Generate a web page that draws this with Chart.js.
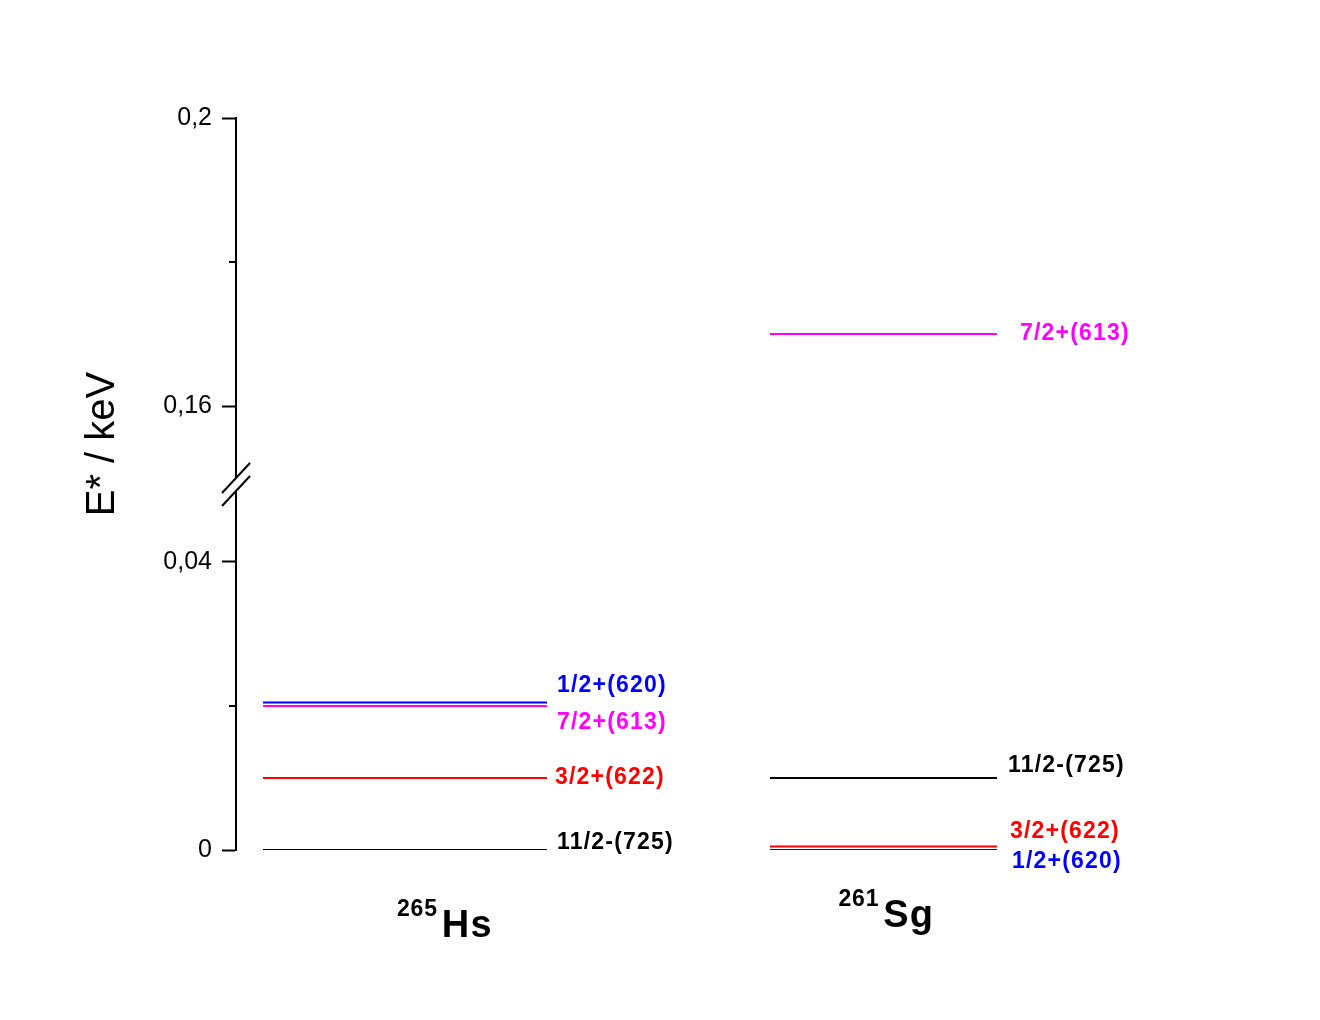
<!DOCTYPE html>
<html>
<head>
<meta charset="utf-8">
<script src="https://cdn.jsdelivr.net/npm/chart.js@4.4.1/dist/chart.umd.min.js"></script>
<style>
  body { margin: 0; background: #fff; }
  canvas { display: block; }
</style>
</head>
<body>
<canvas id="nivelesChart" width="1320" height="1020"></canvas>
<script>
// datos: núcleos y niveles (E* en keV)
const massNumbers = ['265', '261'];
const symbols = ['Hs', 'Sg'];
const levelNames = ['1/2+(620)', '7/2+(613)', '3/2+(622)', '11/2-(725)'];
const hsEnergies = [0.0205, 0.0200, 0.0100, 0.0000];
const sgEnergies = [0.0000, 0.1700, 0.0005, 0.0100];

// ticks del eje y (partido)
const majorTicksLow = [0, 0.04];
const majorTicksHigh = [0.16, 0.2];
const minorTicksLow = [0.02];
const minorTicksHigh = [0.18];
const breakLow = 0.050833;   // tope del tramo inferior
const breakHigh = 0.149167;  // base del tramo superior
const axisMax = 0.2;

// estilo
const levelColors = ['#0000ff', '#ff00ff', '#ff0000', '#000000'];
const columns = [[0.027, 0.311], [0.534, 0.761]];        // extensión x de cada núcleo
const labelShift = [                                    // [dx, dy] de cada etiqueta
    [[10, -17], [10, 17], [8, 0], [10, -7]],
    [[15, 12], [23, 0], [13, -15], [11, -12]]
];
const nuclideLabelPos = [[-8, 87], [-45, 77]];          // [dx desde centro, línea base bajo el eje]
const FONT = '"Liberation Sans", Arial, sans-serif';

function coma(v) {
    return Number(v.toFixed(4)).toString().replace('.', ',');
}

const energies = [hsEnergies, sgEnergies];
const datasets = [];
energies.forEach((serie, n) => {
    serie.forEach((e, i) => {
        datasets.push({
            label: symbols[n] + ' ' + levelNames[i],
            data: [{ x: columns[n][0], y: e }, { x: columns[n][1], y: e }],
            yAxisID: e > breakLow ? 'yTop' : 'y',
            borderColor: levelColors[i],
            backgroundColor: levelColors[i],
            borderWidth: 2,
            pointRadius: 0,
            showLine: true,
            nucleo: n,
            nivel: i
        });
    });
});

function ejeY(min, max, majors) {
    return {
        type: 'linear',
        position: 'left',
        stack: 'energia',
        stackWeight: 1,
        min: min,
        max: max,
        afterFit: scale => { scale.width = 236; },
        afterBuildTicks: scale => { scale.ticks = majors.map(v => ({ value: v })); },
        ticks: {
            font: { family: FONT, size: 25 },
            color: '#000',
            padding: 10,
            callback: v => coma(v)
        },
        grid: {
            drawOnChartArea: false,
            drawTicks: true,
            tickLength: 14,
            tickWidth: 2,
            tickColor: '#000'
        },
        border: { display: true, color: '#000', width: 2 }
    };
}

const extras = {
    id: 'extras',
    afterDraw(chart) {
        const ctx = chart.ctx;
        const yLow = chart.scales.y;
        const yHigh = chart.scales.yTop;
        const axisX = yLow.right;
        ctx.save();
        ctx.strokeStyle = '#000';
        ctx.lineWidth = 2;

        // ticks menores
        minorTicksLow.forEach(v => {
            const p = yLow.getPixelForValue(v);
            ctx.beginPath(); ctx.moveTo(axisX - 7, p); ctx.lineTo(axisX, p); ctx.stroke();
        });
        minorTicksHigh.forEach(v => {
            const p = yHigh.getPixelForValue(v);
            ctx.beginPath(); ctx.moveTo(axisX - 7, p); ctx.lineTo(axisX, p); ctx.stroke();
        });

        // corte del eje
        const yj = yLow.top;
        ctx.fillStyle = '#fff';
        ctx.fillRect(axisX - 4, yj - 6, 8, 13);
        [-6, 7].forEach(d => {
            ctx.beginPath();
            ctx.moveTo(axisX - 14, yj + d + 15);
            ctx.lineTo(axisX + 14, yj + d - 15);
            ctx.stroke();
        });

        // etiquetas de niveles
        ctx.font = 'bold 23px ' + FONT;
        ctx.letterSpacing = '1.2px';
        ctx.textBaseline = 'middle';
        ctx.textAlign = 'left';
        chart.data.datasets.forEach(ds => {
            const sc = chart.scales[ds.yAxisID];
            const px = chart.scales.x.getPixelForValue(ds.data[1].x);
            const py = sc.getPixelForValue(ds.data[1].y);
            const s = labelShift[ds.nucleo][ds.nivel];
            ctx.fillStyle = levelColors[ds.nivel];
            ctx.fillText(levelNames[ds.nivel], px + s[0], py + s[1]);
        });

        // nombres de los núcleos
        ctx.fillStyle = '#000';
        ctx.textBaseline = 'alphabetic';
        symbols.forEach((sym, n) => {
            const cx = (chart.scales.x.getPixelForValue(columns[n][0]) + chart.scales.x.getPixelForValue(columns[n][1])) / 2;
            const x0 = cx + nuclideLabelPos[n][0];
            const base = yLow.bottom + nuclideLabelPos[n][1];
            ctx.font = 'bold 23px ' + FONT;
            ctx.letterSpacing = '0.8px';
            ctx.fillText(massNumbers[n], x0, base - 21);
            const w = ctx.measureText(massNumbers[n]).width;
            ctx.font = 'bold 38px ' + FONT;
            ctx.letterSpacing = '1.2px';
            ctx.fillText(sym, x0 + w + 4, base);
        });

        // título del eje y
        ctx.letterSpacing = '0px';
        ctx.font = '40px ' + FONT;
        ctx.textAlign = 'center';
        ctx.textBaseline = 'middle';
        ctx.translate(103, 444);
        ctx.rotate(-Math.PI / 2);
        ctx.fillText('E* / keV', 0, 0);
        ctx.restore();
    }
};

new Chart(document.getElementById('nivelesChart'), {
    type: 'scatter',
    data: { datasets: datasets },
    options: {
        responsive: false,
        animation: false,
        layout: { padding: { top: 118, bottom: 170, left: 0, right: 84 } },
        plugins: {
            legend: { display: false },
            tooltip: { enabled: false }
        },
        scales: {
            x: { type: 'linear', min: 0, max: 1, display: false },
            y: ejeY(0, breakLow, majorTicksLow),
            yTop: ejeY(breakHigh, axisMax, majorTicksHigh)
        }
    },
    plugins: [extras]
});
</script>
</body>
</html>
